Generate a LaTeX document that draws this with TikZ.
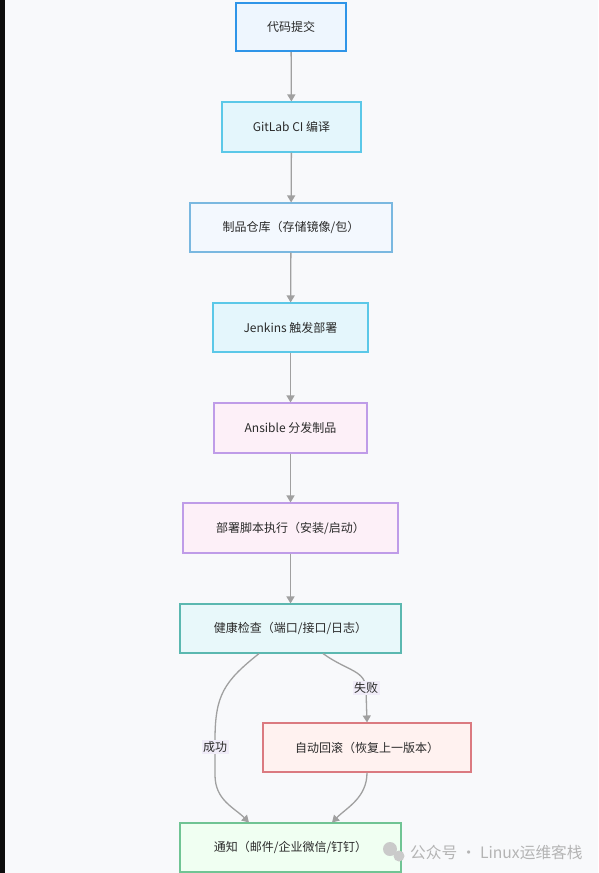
\documentclass[tikz,border=0pt]{standalone}
\usepackage{fontspec}
\setmainfont{Noto Sans CJK SC}
\usetikzlibrary{arrows.meta,calc}
\definecolor{bgc}{HTML}{F8F9FB}
\definecolor{txt}{HTML}{2A2A2A}
\definecolor{edgec}{HTML}{A0A0A0}
\definecolor{labbg}{HTML}{F0ECF8}
\definecolor{dBlue}{HTML}{2F95E8}\definecolor{fBlue}{HTML}{EEF6FE}
\definecolor{dCyan}{HTML}{5BC8E8}\definecolor{fCyan}{HTML}{E4F6FC}
\definecolor{dLBlue}{HTML}{7AB8E0}\definecolor{fLBlue}{HTML}{F3F8FE}
\definecolor{dPurp}{HTML}{BF9CE8}\definecolor{fPurp}{HTML}{FDF0F8}
\definecolor{dTeal}{HTML}{5BB8B0}\definecolor{fTeal}{HTML}{E8F8FA}
\definecolor{dRed}{HTML}{DB7A80}\definecolor{fRed}{HTML}{FFF2F0}
\definecolor{dGreen}{HTML}{70C494}\definecolor{fGreen}{HTML}{F0FFF2}
\definecolor{wm}{HTML}{B4B4B4}
\tikzset{
  box/.style={draw, line width=1.1pt, rectangle, align=center, text=txt, font=\fontsize{12}{14}\selectfont, inner sep=0pt},
  flow/.style={draw=edgec, line width=1.3pt, -{Triangle[width=8pt,length=7pt]}},
  elabel/.style={fill=labbg, text=txt, font=\fontsize{12}{14}\selectfont, inner sep=1.5pt}
}
\begin{document}
\begin{tikzpicture}[x=1pt,y=-1pt]
\fill[bgc] (0,0) rectangle (598,873);
\useasboundingbox (0,0) rectangle (598,873);
\fill[black!95] (0,0) rectangle (5,873);

\node[box, draw=dBlue, line width=2pt, fill=fBlue, minimum width=110pt, minimum height=48pt] (n1) at (291,27) {代码提交};
\node[box, draw=dCyan, fill=fCyan, minimum width=139pt, minimum height=50pt] (n2) at (291.5,127) {GitLab CI 编译};
\node[box, draw=dLBlue, fill=fLBlue, minimum width=202pt, minimum height=49pt] (n3) at (291,227.5) {制品仓库（存储镜像/包）};
\node[box, draw=dCyan, fill=fCyan, minimum width=155pt, minimum height=49pt] (n4) at (290.5,327.5) {Jenkins 触发部署};
\node[box, draw=dPurp, fill=fPurp, minimum width=153pt, minimum height=50pt] (n5) at (290.5,428) {Ansible 分发制品};
\node[box, draw=dPurp, fill=fPurp, minimum width=215pt, minimum height=50pt] (n6) at (290.5,528) {部署脚本执行（安装/启动）};
\node[box, draw=dTeal, fill=fTeal, minimum width=221pt, minimum height=49pt] (n7) at (290.5,628.5) {健康检查（端口/接口/日志）};
\node[box, draw=dRed, fill=fRed, minimum width=208pt, minimum height=49pt] (n8) at (367,747.5) {自动回滚（恢复上一版本）};
\node[box, draw=dGreen, fill=fGreen, minimum width=221pt, minimum height=49pt] (n9) at (290.5,847.5) {通知（邮件/企业微信/钉钉）};

\draw[flow] (n1) -- (n2);
\draw[flow] (n2) -- (n3);
\draw[flow] (n3) -- (n4);
\draw[flow] (n4) -- (n5);
\draw[flow] (n5) -- (n6);
\draw[flow] (n6) -- (n7);

\draw[flow] ([xshift=-31.5pt]n7.south) .. controls +(-35,28) and +(0,-45) .. (215,740)
  -- (215,775) .. controls +(0,25) and +(-15,-15) .. ([xshift=-41.5pt]n9.north);
\node[elabel] (l1) at (215,747) {成功};

\draw[flow] ([xshift=32.5pt]n7.south) .. controls +(25,18) and +(0,-20) .. (366,690)
  -- (n8.north);
\node[elabel] (l2) at (366,688) {失败};

\draw[flow] (n8.south) .. controls +(0,25) and +(15,-15) .. ([xshift=41.5pt]n9.north);

% watermark
\node[text=wm, font=\fontsize{15.7}{18}\selectfont, anchor=west, inner sep=0pt] (wmk) at (410,852) {公众号 · Linux运维客栈};
\fill[wm!70] (390,849) circle (7pt);
\fill[wm!70] (399,856) circle (5.5pt);
\end{tikzpicture}
\end{document}
